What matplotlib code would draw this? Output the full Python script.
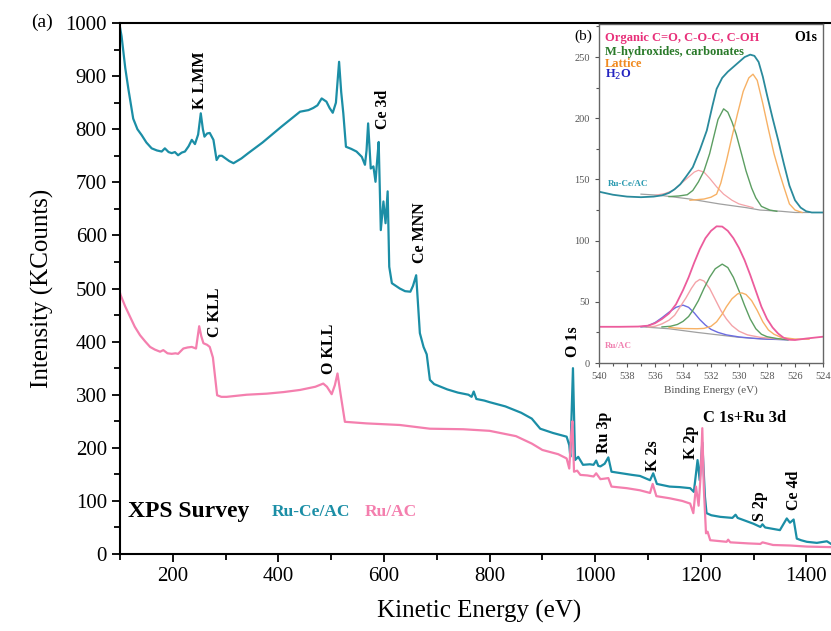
import matplotlib

matplotlib.use("Agg")
import matplotlib.pyplot as plt  # noqa: E402
from matplotlib.ticker import MultipleLocator  # noqa: E402

plt.rcParams["font.family"] = ["Liberation Serif", "DejaVu Serif"]

# ---- (a) XPS survey, kinetic energy (eV) vs intensity (KCounts) ----
ke_ruce = [100, 103, 110, 116, 125, 133, 141, 150, 160, 170, 179, 185, 192, 198,
           204, 210, 217, 223, 230, 236, 242, 248, 253, 257, 260, 265, 270, 277,
           283, 288, 293, 300, 307, 315, 330, 343, 370, 406, 441, 457, 466, 474,
           482, 491, 497, 503, 509, 515, 519, 523, 528, 538, 548, 558, 564, 567,
           570, 573, 575, 580, 584, 587, 590, 594, 599, 603, 607, 610, 615, 630,
           640, 650, 655, 661, 668, 675, 681, 687, 695, 705, 720, 740, 760, 766,
           770, 775, 790, 800, 830, 860, 880, 896, 920, 946, 951, 953, 958, 962,
           968, 977, 990, 997, 1002, 1006, 1010, 1018, 1025, 1031, 1050, 1070,
           1085, 1104, 1110, 1117, 1141, 1160, 1180, 1187, 1194, 1198, 1203, 1208,
           1211, 1220, 1237, 1260, 1266, 1270, 1281, 1300, 1313, 1317, 1322, 1350,
           1363, 1369, 1376, 1382, 1390, 1401, 1420, 1439, 1447]
int_ruce = [992, 975, 915, 875, 820, 800, 789, 775, 764, 760, 758, 764, 757, 755,
            757, 751, 756, 758, 768, 780, 772, 790, 830, 800, 786, 792, 793, 780,
            742, 750, 750, 745, 740, 736, 745, 755, 775, 805, 833, 836, 840, 845,
            858, 852, 840, 831, 850, 927, 870, 830, 767, 763, 758, 748, 733, 760,
            811, 760, 726, 730, 701, 740, 776, 610, 664, 623, 683, 541, 510, 500,
            495, 494, 505, 525, 416, 390, 376, 328, 320, 316, 310, 304, 300, 296,
            306, 292, 289, 286, 278, 266, 255, 236, 228, 221, 205, 183, 350, 177,
            183, 168, 169, 168, 176, 166, 165, 170, 182, 155, 152, 149, 147, 139,
            152, 132, 127, 126, 124, 117, 177, 139, 210, 108, 77, 73, 70, 68, 74,
            68, 64, 57, 51, 56, 50, 45, 67, 59, 65, 29, 26, 23, 21, 24, 19]

ke_ru = [100, 101, 110, 119, 128, 138, 148, 157, 166, 176, 182, 190, 198, 205,
         210, 215, 220, 228, 236, 244, 250, 254, 258, 265, 270, 276, 284, 292,
         302, 340, 378, 410, 441, 470, 485, 492, 501, 507, 512, 518, 526, 567,
         630, 687, 750, 800, 850, 880, 900, 930, 946, 951, 955, 957, 960, 966,
         972, 985, 997, 1002, 1010, 1018, 1025, 1031, 1060, 1085, 1104, 1109,
         1116, 1141, 1165, 1180, 1186, 1191, 1196, 1200, 1203, 1206, 1210, 1213,
         1218, 1249, 1252, 1256, 1290, 1313, 1317, 1337, 1370, 1401, 1445]
int_ru = [492, 488, 466, 447, 428, 412, 400, 390, 385, 381, 384, 378, 377, 378,
          377, 382, 387, 389, 390, 387, 429, 410, 397, 394, 390, 370, 299, 296,
          296, 300, 302, 305, 309, 315, 321, 315, 301, 318, 340, 300, 249, 246,
          243, 236, 235, 232, 222, 208, 196, 188, 180, 161, 230, 250, 155, 157,
          149, 148, 146, 152, 141, 142, 143, 127, 124, 120, 115, 132, 109, 105,
          100, 95, 77, 127, 91, 150, 237, 122, 39, 42, 26, 23, 27, 22, 20, 19,
          22, 17, 16, 14, 13]

peak_labels = ["K LMM", "Ce 3d", "Ce MNN", "C KLL", "O KLL", "O 1s",
               "Ru 3p", "K 2s", "K 2p", "S 2p", "Ce 4d"]
peak_x = [252, 599, 668, 280, 495, 958, 1017, 1110, 1181, 1313, 1376]
peak_y = [893, 838, 605, 456, 386, 399, 229, 186, 210, 90, 120]

# ---- (b) O1s high-resolution inset, binding energy (eV) ----
be_ruce_env = [540, 539, 538, 537, 536.1, 535.5, 535.0, 534.6, 534.2, 533.8, 533.3,
               532.8, 532.3, 531.9, 531.6, 531.2, 530.8, 530.4, 530.0, 529.6, 529.2,
               528.9, 528.6, 528.3, 528.0, 527.6, 527.2, 526.8, 526.4, 526.0, 525.6,
               525.2, 524.8, 524]
ruce_env = [140, 137.5, 136, 135.5, 136, 137, 139, 142, 146, 152, 160,
            174, 190, 210, 224, 233, 238, 242, 246, 250, 252,
            251, 246, 234, 219, 200, 182, 163, 145, 133, 127,
            124, 123, 123]
be_ruce_bg = [537, 535.6, 533.5, 531.4, 529.5, 528.5, 527, 526, 525]
ruce_bg = [138, 137, 134, 130, 127, 125, 124, 123, 123]
be_ruce_org = [536, 535.3, 534.7, 534.2, 533.6, 533.2, 532.9, 532.5, 532.1, 531.6,
               531.1, 530.5, 530, 529]
ruce_org = [137, 138.5, 141, 146, 152, 156, 157.5, 156, 151, 144,
            138, 133, 130, 127]
be_ruce_hyd = [535, 534.3, 533.7, 533.3, 532.9, 532.5, 532.1, 531.8, 531.5, 531.1,
               530.8, 530.5, 530.2, 529.8, 529.5, 529.1, 528.8, 528.4, 527.8, 527.3]
ruce_hyd = [136, 136.5, 137.5, 141, 148, 157, 171, 185, 199, 207.7,
            205, 197, 187, 170, 157, 143, 135, 128, 125, 124]
be_ruce_lat = [533.5, 532.5, 532.0, 531.6, 531.3, 530.9, 530.5, 530.1, 529.7, 529.3,
               529.0, 528.7, 528.3, 527.9, 527.5, 527.1, 526.8, 526.4, 526.0, 525.5]
ruce_lat = [133, 134, 135.5, 138, 147, 165, 185, 204, 222, 233,
            236, 231, 212, 191, 171, 155, 144, 130, 125, 123]

be_ru_env = [540, 538.5, 537.2, 536.5, 536.0, 535.5, 535.0, 534.5, 534.0, 533.6,
             533.2, 532.8, 532.4, 532.0, 531.6, 531.2, 530.8, 530.4, 530.0, 529.6,
             529.2, 528.8, 528.4, 528.0, 527.6, 527.2, 526.8, 526.4, 526.0, 525.2, 524]
ru_env = [29.6, 29.6, 29.8, 30.5, 32.5, 36, 40.5, 48, 59.5, 70,
          82, 93, 102, 108, 111.7, 111.5, 108, 102, 94, 84,
          72, 59, 46, 36, 29, 24, 20.5, 19, 18.8, 20, 21.5]
be_ru_bg = [537, 535, 533, 531.5, 530, 528.5, 526.5]
ru_bg = [29.6, 28, 25, 23, 21, 19.8, 19]
be_ru_h2o = [537, 536.5, 536.0, 535.5, 535.0, 534.5, 534.0, 533.6, 533.2, 532.8,
             532.4, 532.0, 531.5, 530.9, 530, 529, 528, 526.5]
ru_h2o = [29.6, 30.5, 33, 37, 41.5, 45.5, 47.3, 45.5, 41, 35.5,
          31, 27.5, 25, 23, 21.3, 20.2, 19.5, 19]
be_ru_org = [536.5, 536, 535.5, 535, 534.6, 534.2, 533.8, 533.4, 533.1, 532.8,
             532.5, 532.1, 531.7, 531.3, 530.9, 530.5, 530, 529.4, 528.5, 527]
ru_org = [29.5, 30, 32, 35, 39, 46, 53, 61, 66, 68.3,
          67, 61, 52, 43, 36, 30.5, 26, 23, 21, 19.5]
be_ru_hyd = [535.5, 534.9, 534.4, 534, 533.6, 533.3, 532.9, 532.5, 532.1, 531.7,
             531.2, 530.8, 530.4, 530.0, 529.6, 529.2, 528.8, 528.4, 528, 527.3, 526.5]
ru_hyd = [29.5, 30, 31.5, 34, 38, 43, 51, 61, 70, 77,
          80.8, 78, 70, 59, 47, 36, 28, 23.5, 21.5, 20, 19]
be_ru_lat = [535, 534, 533, 532.5, 532, 531.6, 531.2, 530.9, 530.5, 530.1,
             529.8, 529.5, 529.1, 528.7, 528.3, 527.9, 527.5, 527, 526, 525]
ru_lat = [29, 28.2, 28, 28.3, 30, 33.7, 40, 46, 52.5, 56.5,
          57.3, 56, 51, 43, 33.7, 27, 23.5, 21, 19.6, 19.5]

inset_legend = ["Organic C=O, C-O-C, C-OH", "M-hydroxides, carbonates", "Lattice", "H$_2$O"]

TEAL = "#1b8ea6"
PINK = "#f47fae"


def main() -> None:
    fig = plt.figure(figsize=(8.31, 6.31), dpi=100)
    ax = fig.add_axes([0.1444, 0.122, 0.864, 0.8415])

    ax.plot(ke_ruce, int_ruce, color=TEAL, lw=1.6)
    ax.plot(ke_ru, int_ru, color=PINK, lw=1.6)
    ax.set_xlim(100, 1460)
    ax.set_ylim(0, 1000)
    ax.xaxis.set_major_locator(MultipleLocator(200))
    ax.xaxis.set_minor_locator(MultipleLocator(100))
    ax.yaxis.set_major_locator(MultipleLocator(100))
    ax.yaxis.set_minor_locator(MultipleLocator(50))
    ax.set_xticks(range(200, 1401, 200))
    ax.tick_params(which="both", direction="out", width=1.3, labelsize=15)
    ax.tick_params(which="major", length=6)
    ax.tick_params(which="minor", length=4)
    for s in ax.spines.values():
        s.set_linewidth(1.5)
    ax.set_xlabel("Kinetic Energy (eV)", fontsize=18, labelpad=10)
    ax.set_ylabel("Intensity (KCounts)", fontsize=18, labelpad=8)

    for lab, x, y in zip(peak_labels, peak_x, peak_y):
        ax.text(x, y, lab, rotation=90, ha="center", va="center",
                fontsize=11.5, fontweight="bold")
    ax.text(1205, 256, "C 1s+Ru 3d", ha="left", va="center",
            fontsize=12, fontweight="bold")

    ax.text(115, 80, "XPS Survey", ha="left", va="center",
            fontsize=17, fontweight="bold")
    ax.text(387, 80, "Ru-Ce/AC", ha="left", va="center", fontsize=12.5,
            fontweight="bold", color=TEAL)
    ax.text(564, 80, "Ru/AC", ha="left", va="center", fontsize=12.5,
            fontweight="bold", color=PINK)
    fig.text(42 / 831, 1 - 22 / 631, "(a)", ha="center", va="center", fontsize=14)

    # inset (b)
    ins = fig.add_axes([0.7208, 0.4247, 0.2696, 0.5372])
    gray = "#555555"
    ins.plot(be_ruce_bg, ruce_bg, color="#a0a0a0", lw=0.9)
    ins.plot(be_ruce_org, ruce_org, color="#f4a3a8", lw=0.9)
    ins.plot(be_ruce_hyd, ruce_hyd, color="#5c9e62", lw=1.0)
    ins.plot(be_ruce_lat, ruce_lat, color="#f7b165", lw=1.0)
    ins.plot(be_ruce_env, ruce_env, color="#2a8a9c", lw=1.3)
    ins.plot(be_ru_bg, ru_bg, color="#a0a0a0", lw=0.9)
    ins.plot(be_ru_h2o, ru_h2o, color="#6c6ce0", lw=1.0)
    ins.plot(be_ru_org, ru_org, color="#f4a3a8", lw=1.0)
    ins.plot(be_ru_hyd, ru_hyd, color="#5c9e62", lw=1.0)
    ins.plot(be_ru_lat, ru_lat, color="#f7b165", lw=1.0)
    ins.plot(be_ru_env, ru_env, color="#ec5c9c", lw=1.3)
    ins.set_xlim(540, 524)
    ins.set_ylim(0, 277)
    ins.set_xticks(range(540, 523, -2))
    ins.xaxis.set_minor_locator(MultipleLocator(1))
    ins.set_yticks([0, 50, 100, 150, 200, 250])
    ins.yaxis.set_minor_locator(MultipleLocator(25))
    ins.tick_params(which="both", direction="out", colors=gray, labelsize=7.5, width=0.8)
    ins.tick_params(which="major", length=3)
    ins.tick_params(which="minor", length=2)
    for s in ins.spines.values():
        s.set_color("#666666")
        s.set_linewidth(1.0)
    ins.set_xlabel("Binding Energy (eV)", fontsize=8, color=gray, labelpad=3)

    leg_colors = ["#e8307a", "#2a7a2a", "#f08a20", "#2424c0"]
    leg_y = [266, 254, 244.5, 235]
    for lab, c, y in zip(inset_legend, leg_colors, leg_y):
        ins.text(539.55, y, lab, color=c, fontsize=9, fontweight="bold",
                 ha="left", va="center")
    ins.text(524.4, 266, "O1s", fontsize=10, fontweight="bold", ha="right", va="center")
    ins.text(539.4, 146, "Ru-Ce/AC", fontsize=6.5, color="#2a9ab0",
             fontweight="bold", ha="left", va="center")
    ins.text(539.6, 14, "Ru/AC", fontsize=6.5, color="#f080b0",
             fontweight="bold", ha="left", va="center")
    fig.text(583 / 831, 1 - 36 / 631, "(b)", ha="center", va="center", fontsize=11)

    fig.savefig("out.png", dpi=100)
    plt.close(fig)


if __name__ == "__main__":
    main()
